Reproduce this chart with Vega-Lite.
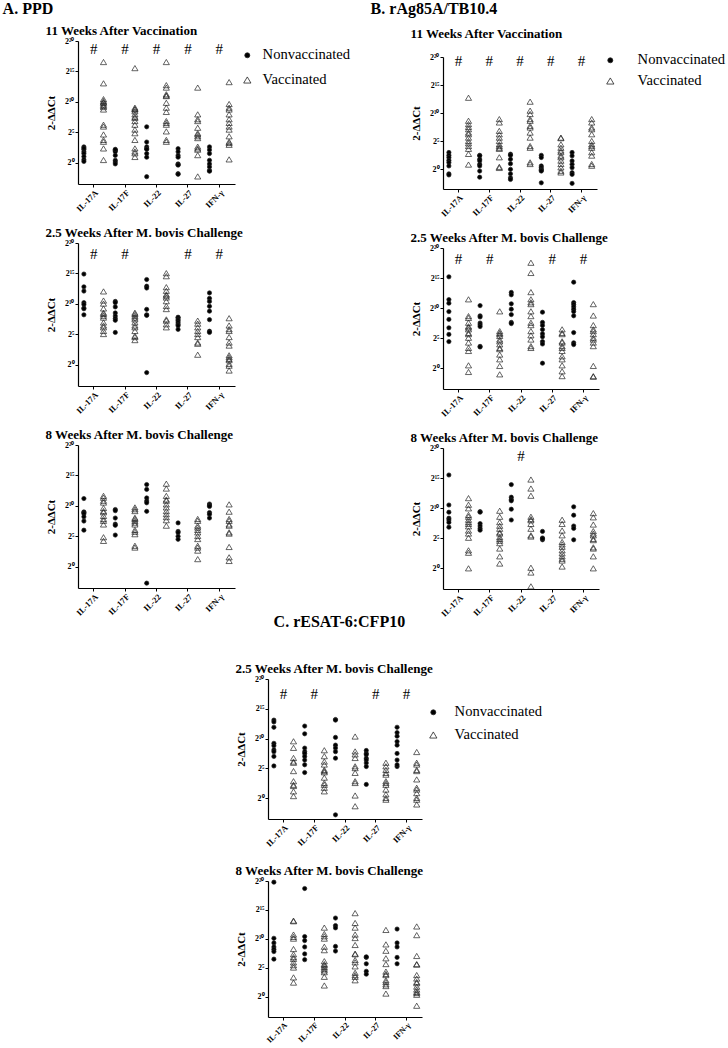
{
"$schema":"https://vega.github.io/schema/vega-lite/v6.json",
"padding":{"left":2,"top":0,"right":2,"bottom":0},
"background":"white",
"config":{
 "view":{"stroke":null},
 "font":"Liberation Serif",
 "title":{"font":"Liberation Serif","fontSize":13,"fontWeight":"bold","anchor":"start","frame":"bounds","color":"#000","offset":-1},
 "axis":{"labelFont":"Liberation Serif","titleFont":"Liberation Serif","labelColor":"#000","titleColor":"#000","domainColor":"#000","tickColor":"#000","grid":false,"domainWidth":1.2,"tickWidth":1},
 "legend":{"labelFont":"Liberation Serif","labelFontSize":14.6,"labelColor":"#000","symbolStrokeColor":"#222","symbolStrokeWidth":0.8,"symbolSize":25}
},
"datasets":{
"sig":[{"panel":"A11","cyt":"IL-17A"},{"panel":"A11","cyt":"IL-17F"},{"panel":"A11","cyt":"IL-22"},{"panel":"A11","cyt":"IL-27"},{"panel":"A11","cyt":"IFN-γ"},
{"panel":"A25","cyt":"IL-17A"},{"panel":"A25","cyt":"IL-17F"},{"panel":"A25","cyt":"IL-27"},{"panel":"A25","cyt":"IFN-γ"},
{"panel":"B11","cyt":"IL-17A"},{"panel":"B11","cyt":"IL-17F"},{"panel":"B11","cyt":"IL-22"},{"panel":"B11","cyt":"IL-27"},{"panel":"B11","cyt":"IFN-γ"},
{"panel":"B25","cyt":"IL-17A"},{"panel":"B25","cyt":"IL-17F"},{"panel":"B25","cyt":"IL-27"},{"panel":"B25","cyt":"IFN-γ"},
{"panel":"B8","cyt":"IL-22"},
{"panel":"C25","cyt":"IL-17A"},{"panel":"C25","cyt":"IL-17F"},{"panel":"C25","cyt":"IL-27"},{"panel":"C25","cyt":"IFN-γ"}],
"A11":[
{"cyt":"IL-17A","grp":"N","val":2.6},{"cyt":"IL-17A","grp":"N","val":2.2},{"cyt":"IL-17A","grp":"N","val":1.8},{"cyt":"IL-17A","grp":"N","val":1.5},{"cyt":"IL-17A","grp":"N","val":1.0},{"cyt":"IL-17A","grp":"N","val":0.5},{"cyt":"IL-17A","grp":"N","val":0.2},{"cyt":"IL-17A","grp":"N","val":2.4},
{"cyt":"IL-17A","grp":"V","val":16.5},{"cyt":"IL-17A","grp":"V","val":13},{"cyt":"IL-17A","grp":"V","val":10.4},{"cyt":"IL-17A","grp":"V","val":10.1},{"cyt":"IL-17A","grp":"V","val":9.8},{"cyt":"IL-17A","grp":"V","val":9.5},{"cyt":"IL-17A","grp":"V","val":9.3},{"cyt":"IL-17A","grp":"V","val":9.9},{"cyt":"IL-17A","grp":"V","val":9.1},{"cyt":"IL-17A","grp":"V","val":8.7},{"cyt":"IL-17A","grp":"V","val":6.2},{"cyt":"IL-17A","grp":"V","val":5.9},{"cyt":"IL-17A","grp":"V","val":4.6},{"cyt":"IL-17A","grp":"V","val":3.7},{"cyt":"IL-17A","grp":"V","val":3.4},{"cyt":"IL-17A","grp":"V","val":2.3},{"cyt":"IL-17A","grp":"V","val":0.4},
{"cyt":"IL-17F","grp":"N","val":2.1},{"cyt":"IL-17F","grp":"N","val":2.0},{"cyt":"IL-17F","grp":"N","val":1.8},{"cyt":"IL-17F","grp":"N","val":1.2},{"cyt":"IL-17F","grp":"N","val":0.4},{"cyt":"IL-17F","grp":"N","val":0.1},{"cyt":"IL-17F","grp":"N","val":-0.2},{"cyt":"IL-17F","grp":"N","val":2.2},
{"cyt":"IL-17F","grp":"V","val":15.5},{"cyt":"IL-17F","grp":"V","val":9},{"cyt":"IL-17F","grp":"V","val":8.7},{"cyt":"IL-17F","grp":"V","val":8.4},{"cyt":"IL-17F","grp":"V","val":7.9},{"cyt":"IL-17F","grp":"V","val":7.3},{"cyt":"IL-17F","grp":"V","val":6.8},{"cyt":"IL-17F","grp":"V","val":6.2},{"cyt":"IL-17F","grp":"V","val":5.4},{"cyt":"IL-17F","grp":"V","val":4.8},{"cyt":"IL-17F","grp":"V","val":3.7},{"cyt":"IL-17F","grp":"V","val":2.3},{"cyt":"IL-17F","grp":"V","val":1.8},{"cyt":"IL-17F","grp":"V","val":1.5},{"cyt":"IL-17F","grp":"V","val":0.9},{"cyt":"IL-17F","grp":"V","val":8.8},{"cyt":"IL-17F","grp":"V","val":7.5},
{"cyt":"IL-22","grp":"N","val":5.9},{"cyt":"IL-22","grp":"N","val":3.4},{"cyt":"IL-22","grp":"N","val":2.6},{"cyt":"IL-22","grp":"N","val":2.3},{"cyt":"IL-22","grp":"N","val":2.2},{"cyt":"IL-22","grp":"N","val":1.5},{"cyt":"IL-22","grp":"N","val":0.9},{"cyt":"IL-22","grp":"N","val":-2.3},
{"cyt":"IL-22","grp":"V","val":16.5},{"cyt":"IL-22","grp":"V","val":12.7},{"cyt":"IL-22","grp":"V","val":12.3},{"cyt":"IL-22","grp":"V","val":11.2},{"cyt":"IL-22","grp":"V","val":10.9},{"cyt":"IL-22","grp":"V","val":9.8},{"cyt":"IL-22","grp":"V","val":9},{"cyt":"IL-22","grp":"V","val":8.3},{"cyt":"IL-22","grp":"V","val":6.8},{"cyt":"IL-22","grp":"V","val":6.5},{"cyt":"IL-22","grp":"V","val":6.2},{"cyt":"IL-22","grp":"V","val":5.1},{"cyt":"IL-22","grp":"V","val":3.7},{"cyt":"IL-22","grp":"V","val":3.4},{"cyt":"IL-22","grp":"V","val":11.0},
{"cyt":"IL-27","grp":"N","val":2.3},{"cyt":"IL-27","grp":"N","val":1.8},{"cyt":"IL-27","grp":"N","val":1.2},{"cyt":"IL-27","grp":"N","val":0.9},{"cyt":"IL-27","grp":"N","val":-0.2},{"cyt":"IL-27","grp":"N","val":-0.3},{"cyt":"IL-27","grp":"N","val":-0.4},{"cyt":"IL-27","grp":"N","val":-1.8},{"cyt":"IL-27","grp":"N","val":-1.9},
{"cyt":"IL-27","grp":"V","val":12.3},{"cyt":"IL-27","grp":"V","val":7.9},{"cyt":"IL-27","grp":"V","val":7.1},{"cyt":"IL-27","grp":"V","val":6.8},{"cyt":"IL-27","grp":"V","val":5.7},{"cyt":"IL-27","grp":"V","val":4.8},{"cyt":"IL-27","grp":"V","val":4.6},{"cyt":"IL-27","grp":"V","val":4.3},{"cyt":"IL-27","grp":"V","val":4},{"cyt":"IL-27","grp":"V","val":2.6},{"cyt":"IL-27","grp":"V","val":2.3},{"cyt":"IL-27","grp":"V","val":2.1},{"cyt":"IL-27","grp":"V","val":1.2},{"cyt":"IL-27","grp":"V","val":-2.3},
{"cyt":"IFN-γ","grp":"N","val":2.6},{"cyt":"IFN-γ","grp":"N","val":2.1},{"cyt":"IFN-γ","grp":"N","val":1.5},{"cyt":"IFN-γ","grp":"N","val":0.4},{"cyt":"IFN-γ","grp":"N","val":-0.2},{"cyt":"IFN-γ","grp":"N","val":-0.7},{"cyt":"IFN-γ","grp":"N","val":-1.3},{"cyt":"IFN-γ","grp":"N","val":-1.4},
{"cyt":"IFN-γ","grp":"V","val":13.2},{"cyt":"IFN-γ","grp":"V","val":9.6},{"cyt":"IFN-γ","grp":"V","val":9},{"cyt":"IFN-γ","grp":"V","val":8.7},{"cyt":"IFN-γ","grp":"V","val":7.9},{"cyt":"IFN-γ","grp":"V","val":7.1},{"cyt":"IFN-γ","grp":"V","val":6.5},{"cyt":"IFN-γ","grp":"V","val":5.9},{"cyt":"IFN-γ","grp":"V","val":5.4},{"cyt":"IFN-γ","grp":"V","val":4.3},{"cyt":"IFN-γ","grp":"V","val":3.4},{"cyt":"IFN-γ","grp":"V","val":3.2},{"cyt":"IFN-γ","grp":"V","val":2.9},{"cyt":"IFN-γ","grp":"V","val":0.5}],
"A25":[
{"cyt":"IL-17A","grp":"N","val":14.9},{"cyt":"IL-17A","grp":"N","val":12.8},{"cyt":"IL-17A","grp":"N","val":12.1},{"cyt":"IL-17A","grp":"N","val":10.2},{"cyt":"IL-17A","grp":"N","val":9.9},{"cyt":"IL-17A","grp":"N","val":9.3},{"cyt":"IL-17A","grp":"N","val":9.2},{"cyt":"IL-17A","grp":"N","val":8.2},
{"cyt":"IL-17A","grp":"V","val":12},{"cyt":"IL-17A","grp":"V","val":10.5},{"cyt":"IL-17A","grp":"V","val":10},{"cyt":"IL-17A","grp":"V","val":9.2},{"cyt":"IL-17A","grp":"V","val":8.5},{"cyt":"IL-17A","grp":"V","val":8.3},{"cyt":"IL-17A","grp":"V","val":8},{"cyt":"IL-17A","grp":"V","val":7.7},{"cyt":"IL-17A","grp":"V","val":6.9},{"cyt":"IL-17A","grp":"V","val":6.4},{"cyt":"IL-17A","grp":"V","val":6.1},{"cyt":"IL-17A","grp":"V","val":5.5},{"cyt":"IL-17A","grp":"V","val":5},
{"cyt":"IL-17F","grp":"N","val":10.4},{"cyt":"IL-17F","grp":"N","val":10.2},{"cyt":"IL-17F","grp":"N","val":9.5},{"cyt":"IL-17F","grp":"N","val":8.5},{"cyt":"IL-17F","grp":"N","val":8},{"cyt":"IL-17F","grp":"N","val":7.6},{"cyt":"IL-17F","grp":"N","val":7.3},{"cyt":"IL-17F","grp":"N","val":5.3},
{"cyt":"IL-17F","grp":"V","val":8.5},{"cyt":"IL-17F","grp":"V","val":8.3},{"cyt":"IL-17F","grp":"V","val":8},{"cyt":"IL-17F","grp":"V","val":7.7},{"cyt":"IL-17F","grp":"V","val":7.4},{"cyt":"IL-17F","grp":"V","val":6.9},{"cyt":"IL-17F","grp":"V","val":6.4},{"cyt":"IL-17F","grp":"V","val":6.1},{"cyt":"IL-17F","grp":"V","val":5.5},{"cyt":"IL-17F","grp":"V","val":4.7},{"cyt":"IL-17F","grp":"V","val":4.5},{"cyt":"IL-17F","grp":"V","val":4},
{"cyt":"IL-22","grp":"N","val":14},{"cyt":"IL-22","grp":"N","val":12.9},{"cyt":"IL-22","grp":"N","val":12.6},{"cyt":"IL-22","grp":"N","val":9.1},{"cyt":"IL-22","grp":"N","val":8.2},{"cyt":"IL-22","grp":"N","val":8.1},{"cyt":"IL-22","grp":"N","val":-1.3},
{"cyt":"IL-22","grp":"V","val":15},{"cyt":"IL-22","grp":"V","val":14.5},{"cyt":"IL-22","grp":"V","val":12.7},{"cyt":"IL-22","grp":"V","val":12.1},{"cyt":"IL-22","grp":"V","val":11.5},{"cyt":"IL-22","grp":"V","val":11.3},{"cyt":"IL-22","grp":"V","val":11},{"cyt":"IL-22","grp":"V","val":10.4},{"cyt":"IL-22","grp":"V","val":9.6},{"cyt":"IL-22","grp":"V","val":9.1},{"cyt":"IL-22","grp":"V","val":7.4},{"cyt":"IL-22","grp":"V","val":7.2},{"cyt":"IL-22","grp":"V","val":6.6},{"cyt":"IL-22","grp":"V","val":6.1},
{"cyt":"IL-27","grp":"N","val":7.8},{"cyt":"IL-27","grp":"N","val":7.7},{"cyt":"IL-27","grp":"N","val":7.4},{"cyt":"IL-27","grp":"N","val":7.2},{"cyt":"IL-27","grp":"N","val":6.9},{"cyt":"IL-27","grp":"N","val":6.6},{"cyt":"IL-27","grp":"N","val":6.4},{"cyt":"IL-27","grp":"N","val":5.8},
{"cyt":"IL-27","grp":"V","val":7.2},{"cyt":"IL-27","grp":"V","val":6.7},{"cyt":"IL-27","grp":"V","val":6.1},{"cyt":"IL-27","grp":"V","val":5.5},{"cyt":"IL-27","grp":"V","val":5},{"cyt":"IL-27","grp":"V","val":4.5},{"cyt":"IL-27","grp":"V","val":3.6},{"cyt":"IL-27","grp":"V","val":3.4},{"cyt":"IL-27","grp":"V","val":1.6},
{"cyt":"IFN-γ","grp":"N","val":11.8},{"cyt":"IFN-γ","grp":"N","val":10.9},{"cyt":"IFN-γ","grp":"N","val":10.4},{"cyt":"IFN-γ","grp":"N","val":9.6},{"cyt":"IFN-γ","grp":"N","val":8.8},{"cyt":"IFN-γ","grp":"N","val":7.4},{"cyt":"IFN-γ","grp":"N","val":5.5},{"cyt":"IFN-γ","grp":"N","val":5.3},
{"cyt":"IFN-γ","grp":"V","val":7.6},{"cyt":"IFN-γ","grp":"V","val":6.4},{"cyt":"IFN-γ","grp":"V","val":5.8},{"cyt":"IFN-γ","grp":"V","val":5.5},{"cyt":"IFN-γ","grp":"V","val":4.5},{"cyt":"IFN-γ","grp":"V","val":3.6},{"cyt":"IFN-γ","grp":"V","val":3.1},{"cyt":"IFN-γ","grp":"V","val":1.5},{"cyt":"IFN-γ","grp":"V","val":1.2},{"cyt":"IFN-γ","grp":"V","val":0.9},{"cyt":"IFN-γ","grp":"V","val":0.7},{"cyt":"IFN-γ","grp":"V","val":0.1},{"cyt":"IFN-γ","grp":"V","val":-0.2},{"cyt":"IFN-γ","grp":"V","val":-1}],
"A8":[
{"cyt":"IL-17A","grp":"N","val":11.2},{"cyt":"IL-17A","grp":"N","val":9},{"cyt":"IL-17A","grp":"N","val":8.9},{"cyt":"IL-17A","grp":"N","val":8.7},{"cyt":"IL-17A","grp":"N","val":8.2},{"cyt":"IL-17A","grp":"N","val":7.5},{"cyt":"IL-17A","grp":"N","val":6},
{"cyt":"IL-17A","grp":"V","val":11.6},{"cyt":"IL-17A","grp":"V","val":11.3},{"cyt":"IL-17A","grp":"V","val":10.8},{"cyt":"IL-17A","grp":"V","val":10.5},{"cyt":"IL-17A","grp":"V","val":9.6},{"cyt":"IL-17A","grp":"V","val":9.1},{"cyt":"IL-17A","grp":"V","val":8.9},{"cyt":"IL-17A","grp":"V","val":8.3},{"cyt":"IL-17A","grp":"V","val":7.8},{"cyt":"IL-17A","grp":"V","val":7.5},{"cyt":"IL-17A","grp":"V","val":6.9},{"cyt":"IL-17A","grp":"V","val":4.8},{"cyt":"IL-17A","grp":"V","val":4.2},
{"cyt":"IL-17F","grp":"N","val":9.4},{"cyt":"IL-17F","grp":"N","val":9.2},{"cyt":"IL-17F","grp":"N","val":8},{"cyt":"IL-17F","grp":"N","val":7},{"cyt":"IL-17F","grp":"N","val":6.8},{"cyt":"IL-17F","grp":"N","val":5.2},
{"cyt":"IL-17F","grp":"V","val":9.7},{"cyt":"IL-17F","grp":"V","val":9.4},{"cyt":"IL-17F","grp":"V","val":9.1},{"cyt":"IL-17F","grp":"V","val":8},{"cyt":"IL-17F","grp":"V","val":7.8},{"cyt":"IL-17F","grp":"V","val":7.5},{"cyt":"IL-17F","grp":"V","val":7.2},{"cyt":"IL-17F","grp":"V","val":6.9},{"cyt":"IL-17F","grp":"V","val":6},{"cyt":"IL-17F","grp":"V","val":5.7},{"cyt":"IL-17F","grp":"V","val":5.3},{"cyt":"IL-17F","grp":"V","val":3.4},{"cyt":"IL-17F","grp":"V","val":3.1},
{"cyt":"IL-22","grp":"N","val":13.5},{"cyt":"IL-22","grp":"N","val":12.7},{"cyt":"IL-22","grp":"N","val":11.3},{"cyt":"IL-22","grp":"N","val":10.8},{"cyt":"IL-22","grp":"N","val":10.5},{"cyt":"IL-22","grp":"N","val":9.1},{"cyt":"IL-22","grp":"N","val":-2.7},
{"cyt":"IL-22","grp":"V","val":13.6},{"cyt":"IL-22","grp":"V","val":12.8},{"cyt":"IL-22","grp":"V","val":11.6},{"cyt":"IL-22","grp":"V","val":11},{"cyt":"IL-22","grp":"V","val":10.8},{"cyt":"IL-22","grp":"V","val":10.2},{"cyt":"IL-22","grp":"V","val":9.7},{"cyt":"IL-22","grp":"V","val":9.1},{"cyt":"IL-22","grp":"V","val":8.6},{"cyt":"IL-22","grp":"V","val":8.1},{"cyt":"IL-22","grp":"V","val":7.6},{"cyt":"IL-22","grp":"V","val":6.7},
{"cyt":"IL-27","grp":"N","val":7.2},{"cyt":"IL-27","grp":"N","val":5.8},{"cyt":"IL-27","grp":"N","val":5.6},{"cyt":"IL-27","grp":"N","val":5},{"cyt":"IL-27","grp":"N","val":4.5},
{"cyt":"IL-27","grp":"V","val":7.8},{"cyt":"IL-27","grp":"V","val":7.5},{"cyt":"IL-27","grp":"V","val":6.7},{"cyt":"IL-27","grp":"V","val":6.4},{"cyt":"IL-27","grp":"V","val":6},{"cyt":"IL-27","grp":"V","val":5.6},{"cyt":"IL-27","grp":"V","val":5},{"cyt":"IL-27","grp":"V","val":4.5},{"cyt":"IL-27","grp":"V","val":3.4},{"cyt":"IL-27","grp":"V","val":3.1},{"cyt":"IL-27","grp":"V","val":2.6},{"cyt":"IL-27","grp":"V","val":1.2},
{"cyt":"IFN-γ","grp":"N","val":10.3},{"cyt":"IFN-γ","grp":"N","val":10.1},{"cyt":"IFN-γ","grp":"N","val":9.9},{"cyt":"IFN-γ","grp":"N","val":8.9},{"cyt":"IFN-γ","grp":"N","val":8.6},{"cyt":"IFN-γ","grp":"N","val":8},
{"cyt":"IFN-γ","grp":"V","val":10.2},{"cyt":"IFN-γ","grp":"V","val":9},{"cyt":"IFN-γ","grp":"V","val":7.8},{"cyt":"IFN-γ","grp":"V","val":7.5},{"cyt":"IFN-γ","grp":"V","val":6.9},{"cyt":"IFN-γ","grp":"V","val":6.7},{"cyt":"IFN-γ","grp":"V","val":5.6},{"cyt":"IFN-γ","grp":"V","val":5.4},{"cyt":"IFN-γ","grp":"V","val":3.2},{"cyt":"IFN-γ","grp":"V","val":1.5},{"cyt":"IFN-γ","grp":"V","val":0.9}],
"B11":[
{"cyt":"IL-17A","grp":"N","val":3},{"cyt":"IL-17A","grp":"N","val":2.5},{"cyt":"IL-17A","grp":"N","val":2.1},{"cyt":"IL-17A","grp":"N","val":1.6},{"cyt":"IL-17A","grp":"N","val":1.2},{"cyt":"IL-17A","grp":"N","val":0.6},{"cyt":"IL-17A","grp":"N","val":-0.8},{"cyt":"IL-17A","grp":"N","val":-1},
{"cyt":"IL-17A","grp":"V","val":12.7},{"cyt":"IL-17A","grp":"V","val":8.6},{"cyt":"IL-17A","grp":"V","val":8},{"cyt":"IL-17A","grp":"V","val":7.5},{"cyt":"IL-17A","grp":"V","val":7.1},{"cyt":"IL-17A","grp":"V","val":6.5},{"cyt":"IL-17A","grp":"V","val":6.2},{"cyt":"IL-17A","grp":"V","val":5.6},{"cyt":"IL-17A","grp":"V","val":5},{"cyt":"IL-17A","grp":"V","val":4.6},{"cyt":"IL-17A","grp":"V","val":4.1},{"cyt":"IL-17A","grp":"V","val":3.6},{"cyt":"IL-17A","grp":"V","val":2.7},{"cyt":"IL-17A","grp":"V","val":0.8},
{"cyt":"IL-17F","grp":"N","val":2.5},{"cyt":"IL-17F","grp":"N","val":2.4},{"cyt":"IL-17F","grp":"N","val":1.8},{"cyt":"IL-17F","grp":"N","val":1.5},{"cyt":"IL-17F","grp":"N","val":0.9},{"cyt":"IL-17F","grp":"N","val":0.6},{"cyt":"IL-17F","grp":"N","val":-0.3},{"cyt":"IL-17F","grp":"N","val":-1.4},
{"cyt":"IL-17F","grp":"V","val":8.9},{"cyt":"IL-17F","grp":"V","val":8.3},{"cyt":"IL-17F","grp":"V","val":6.8},{"cyt":"IL-17F","grp":"V","val":6.2},{"cyt":"IL-17F","grp":"V","val":5.6},{"cyt":"IL-17F","grp":"V","val":5},{"cyt":"IL-17F","grp":"V","val":4.4},{"cyt":"IL-17F","grp":"V","val":4.1},{"cyt":"IL-17F","grp":"V","val":3.8},{"cyt":"IL-17F","grp":"V","val":3.6},{"cyt":"IL-17F","grp":"V","val":2.1},{"cyt":"IL-17F","grp":"V","val":0.4},{"cyt":"IL-17F","grp":"V","val":0.2},
{"cyt":"IL-22","grp":"N","val":2.7},{"cyt":"IL-22","grp":"N","val":2.5},{"cyt":"IL-22","grp":"N","val":1.8},{"cyt":"IL-22","grp":"N","val":1},{"cyt":"IL-22","grp":"N","val":0},{"cyt":"IL-22","grp":"N","val":-0.8},{"cyt":"IL-22","grp":"N","val":-1.5},{"cyt":"IL-22","grp":"N","val":-1.8},
{"cyt":"IL-22","grp":"V","val":12},{"cyt":"IL-22","grp":"V","val":10.4},{"cyt":"IL-22","grp":"V","val":9.8},{"cyt":"IL-22","grp":"V","val":8.9},{"cyt":"IL-22","grp":"V","val":8.6},{"cyt":"IL-22","grp":"V","val":7.7},{"cyt":"IL-22","grp":"V","val":7.4},{"cyt":"IL-22","grp":"V","val":6.5},{"cyt":"IL-22","grp":"V","val":5.6},{"cyt":"IL-22","grp":"V","val":4.1},{"cyt":"IL-22","grp":"V","val":3.8},{"cyt":"IL-22","grp":"V","val":1.2},{"cyt":"IL-22","grp":"V","val":0.9},
{"cyt":"IL-27","grp":"N","val":2.5},{"cyt":"IL-27","grp":"N","val":2.1},{"cyt":"IL-27","grp":"N","val":0.6},{"cyt":"IL-27","grp":"N","val":0.3},{"cyt":"IL-27","grp":"N","val":0},{"cyt":"IL-27","grp":"N","val":-0.2},{"cyt":"IL-27","grp":"N","val":-0.3},{"cyt":"IL-27","grp":"N","val":-2.4},
{"cyt":"IL-27","grp":"V","val":5.6},{"cyt":"IL-27","grp":"V","val":5.5},{"cyt":"IL-27","grp":"V","val":4.4},{"cyt":"IL-27","grp":"V","val":3.8},{"cyt":"IL-27","grp":"V","val":3.3},{"cyt":"IL-27","grp":"V","val":3},{"cyt":"IL-27","grp":"V","val":2.4},{"cyt":"IL-27","grp":"V","val":2.1},{"cyt":"IL-27","grp":"V","val":1.5},{"cyt":"IL-27","grp":"V","val":0.9},{"cyt":"IL-27","grp":"V","val":0.3},{"cyt":"IL-27","grp":"V","val":-0.3},{"cyt":"IL-27","grp":"V","val":-0.6},
{"cyt":"IFN-γ","grp":"N","val":3},{"cyt":"IFN-γ","grp":"N","val":2.4},{"cyt":"IFN-γ","grp":"N","val":1.5},{"cyt":"IFN-γ","grp":"N","val":0.9},{"cyt":"IFN-γ","grp":"N","val":0.3},{"cyt":"IFN-γ","grp":"N","val":-0.6},{"cyt":"IFN-γ","grp":"N","val":-0.9},{"cyt":"IFN-γ","grp":"N","val":-2.5},
{"cyt":"IFN-γ","grp":"V","val":8.9},{"cyt":"IFN-γ","grp":"V","val":8.3},{"cyt":"IFN-γ","grp":"V","val":7.4},{"cyt":"IFN-γ","grp":"V","val":7.1},{"cyt":"IFN-γ","grp":"V","val":6.2},{"cyt":"IFN-γ","grp":"V","val":5},{"cyt":"IFN-γ","grp":"V","val":4.4},{"cyt":"IFN-γ","grp":"V","val":4.1},{"cyt":"IFN-γ","grp":"V","val":3.8},{"cyt":"IFN-γ","grp":"V","val":3},{"cyt":"IFN-γ","grp":"V","val":2.4},{"cyt":"IFN-γ","grp":"V","val":0.9},{"cyt":"IFN-γ","grp":"V","val":0.6}],
"B25":[
{"cyt":"IL-17A","grp":"N","val":15.2},{"cyt":"IL-17A","grp":"N","val":11.4},{"cyt":"IL-17A","grp":"N","val":10.8},{"cyt":"IL-17A","grp":"N","val":9.4},{"cyt":"IL-17A","grp":"N","val":8.1},{"cyt":"IL-17A","grp":"N","val":6.7},{"cyt":"IL-17A","grp":"N","val":5.6},{"cyt":"IL-17A","grp":"N","val":4.4},
{"cyt":"IL-17A","grp":"V","val":11.4},{"cyt":"IL-17A","grp":"V","val":8.6},{"cyt":"IL-17A","grp":"V","val":8.3},{"cyt":"IL-17A","grp":"V","val":7.5},{"cyt":"IL-17A","grp":"V","val":6.9},{"cyt":"IL-17A","grp":"V","val":6.7},{"cyt":"IL-17A","grp":"V","val":6.4},{"cyt":"IL-17A","grp":"V","val":5.8},{"cyt":"IL-17A","grp":"V","val":5.6},{"cyt":"IL-17A","grp":"V","val":5},{"cyt":"IL-17A","grp":"V","val":4.2},{"cyt":"IL-17A","grp":"V","val":3.3},{"cyt":"IL-17A","grp":"V","val":2.8},{"cyt":"IL-17A","grp":"V","val":0.4},{"cyt":"IL-17A","grp":"V","val":-0.7},
{"cyt":"IL-17F","grp":"N","val":10.4},{"cyt":"IL-17F","grp":"N","val":8.7},{"cyt":"IL-17F","grp":"N","val":8.5},{"cyt":"IL-17F","grp":"N","val":7.5},{"cyt":"IL-17F","grp":"N","val":7.2},{"cyt":"IL-17F","grp":"N","val":6.9},{"cyt":"IL-17F","grp":"N","val":3.6},{"cyt":"IL-17F","grp":"N","val":3.5},
{"cyt":"IL-17F","grp":"V","val":9.4},{"cyt":"IL-17F","grp":"V","val":6.1},{"cyt":"IL-17F","grp":"V","val":5.8},{"cyt":"IL-17F","grp":"V","val":5.6},{"cyt":"IL-17F","grp":"V","val":5.3},{"cyt":"IL-17F","grp":"V","val":4.7},{"cyt":"IL-17F","grp":"V","val":4.4},{"cyt":"IL-17F","grp":"V","val":3.9},{"cyt":"IL-17F","grp":"V","val":3.3},{"cyt":"IL-17F","grp":"V","val":3.1},{"cyt":"IL-17F","grp":"V","val":2.2},{"cyt":"IL-17F","grp":"V","val":1.4},{"cyt":"IL-17F","grp":"V","val":0.3},{"cyt":"IL-17F","grp":"V","val":-1.1},
{"cyt":"IL-22","grp":"N","val":12.6},{"cyt":"IL-22","grp":"N","val":12.2},{"cyt":"IL-22","grp":"N","val":10.7},{"cyt":"IL-22","grp":"N","val":9.8},{"cyt":"IL-22","grp":"N","val":8.9},{"cyt":"IL-22","grp":"N","val":7.6},{"cyt":"IL-22","grp":"N","val":7.4},
{"cyt":"IL-22","grp":"V","val":17.5},{"cyt":"IL-22","grp":"V","val":15.8},{"cyt":"IL-22","grp":"V","val":12.6},{"cyt":"IL-22","grp":"V","val":11.4},{"cyt":"IL-22","grp":"V","val":10.9},{"cyt":"IL-22","grp":"V","val":10.6},{"cyt":"IL-22","grp":"V","val":9.4},{"cyt":"IL-22","grp":"V","val":8.6},{"cyt":"IL-22","grp":"V","val":7.5},{"cyt":"IL-22","grp":"V","val":7.1},{"cyt":"IL-22","grp":"V","val":6.1},{"cyt":"IL-22","grp":"V","val":5.4},{"cyt":"IL-22","grp":"V","val":4.7},{"cyt":"IL-22","grp":"V","val":3.6},{"cyt":"IL-22","grp":"V","val":3.3},
{"cyt":"IL-27","grp":"N","val":9.3},{"cyt":"IL-27","grp":"N","val":7.6},{"cyt":"IL-27","grp":"N","val":7.1},{"cyt":"IL-27","grp":"N","val":6.4},{"cyt":"IL-27","grp":"N","val":5.7},{"cyt":"IL-27","grp":"N","val":5.2},{"cyt":"IL-27","grp":"N","val":4.4},{"cyt":"IL-27","grp":"N","val":4},{"cyt":"IL-27","grp":"N","val":0.8},
{"cyt":"IL-27","grp":"V","val":6.4},{"cyt":"IL-27","grp":"V","val":5.8},{"cyt":"IL-27","grp":"V","val":5.6},{"cyt":"IL-27","grp":"V","val":4.4},{"cyt":"IL-27","grp":"V","val":4.2},{"cyt":"IL-27","grp":"V","val":3.6},{"cyt":"IL-27","grp":"V","val":3.3},{"cyt":"IL-27","grp":"V","val":2.8},{"cyt":"IL-27","grp":"V","val":1.9},{"cyt":"IL-27","grp":"V","val":1.4},{"cyt":"IL-27","grp":"V","val":0.4},{"cyt":"IL-27","grp":"V","val":-0.6},{"cyt":"IL-27","grp":"V","val":-1.4},
{"cyt":"IFN-γ","grp":"N","val":14.3},{"cyt":"IFN-γ","grp":"N","val":10.9},{"cyt":"IFN-γ","grp":"N","val":10.6},{"cyt":"IFN-γ","grp":"N","val":10.2},{"cyt":"IFN-γ","grp":"N","val":9.8},{"cyt":"IFN-γ","grp":"N","val":9.4},{"cyt":"IFN-γ","grp":"N","val":8.7},{"cyt":"IFN-γ","grp":"N","val":5.9},{"cyt":"IFN-γ","grp":"N","val":4.2},{"cyt":"IFN-γ","grp":"N","val":3.9},
{"cyt":"IFN-γ","grp":"V","val":10.6},{"cyt":"IFN-γ","grp":"V","val":8.7},{"cyt":"IFN-γ","grp":"V","val":7.1},{"cyt":"IFN-γ","grp":"V","val":6.4},{"cyt":"IFN-γ","grp":"V","val":6.1},{"cyt":"IFN-γ","grp":"V","val":5.6},{"cyt":"IFN-γ","grp":"V","val":5},{"cyt":"IFN-γ","grp":"V","val":4.7},{"cyt":"IFN-γ","grp":"V","val":4.2},{"cyt":"IFN-γ","grp":"V","val":3.6},{"cyt":"IFN-γ","grp":"V","val":0.3},{"cyt":"IFN-γ","grp":"V","val":-1.4},{"cyt":"IFN-γ","grp":"V","val":-1.5}],
"B8":[
{"cyt":"IL-17A","grp":"N","val":15.5},{"cyt":"IL-17A","grp":"N","val":10.5},{"cyt":"IL-17A","grp":"N","val":9.3},{"cyt":"IL-17A","grp":"N","val":8.3},{"cyt":"IL-17A","grp":"N","val":8},{"cyt":"IL-17A","grp":"N","val":7.6},{"cyt":"IL-17A","grp":"N","val":6.8},
{"cyt":"IL-17A","grp":"V","val":11.6},{"cyt":"IL-17A","grp":"V","val":10.5},{"cyt":"IL-17A","grp":"V","val":9.9},{"cyt":"IL-17A","grp":"V","val":8.8},{"cyt":"IL-17A","grp":"V","val":8.5},{"cyt":"IL-17A","grp":"V","val":8},{"cyt":"IL-17A","grp":"V","val":7.6},{"cyt":"IL-17A","grp":"V","val":7.3},{"cyt":"IL-17A","grp":"V","val":6.9},{"cyt":"IL-17A","grp":"V","val":6.2},{"cyt":"IL-17A","grp":"V","val":5.7},{"cyt":"IL-17A","grp":"V","val":5},{"cyt":"IL-17A","grp":"V","val":2.9},{"cyt":"IL-17A","grp":"V","val":2.5},{"cyt":"IL-17A","grp":"V","val":-0.1},
{"cyt":"IL-17F","grp":"N","val":9.4},{"cyt":"IL-17F","grp":"N","val":9.3},{"cyt":"IL-17F","grp":"N","val":7.4},{"cyt":"IL-17F","grp":"N","val":7},{"cyt":"IL-17F","grp":"N","val":6.6},{"cyt":"IL-17F","grp":"N","val":6.3},
{"cyt":"IL-17F","grp":"V","val":9.5},{"cyt":"IL-17F","grp":"V","val":8.5},{"cyt":"IL-17F","grp":"V","val":7.6},{"cyt":"IL-17F","grp":"V","val":7},{"cyt":"IL-17F","grp":"V","val":6.5},{"cyt":"IL-17F","grp":"V","val":5.9},{"cyt":"IL-17F","grp":"V","val":5.7},{"cyt":"IL-17F","grp":"V","val":5.1},{"cyt":"IL-17F","grp":"V","val":4.8},{"cyt":"IL-17F","grp":"V","val":4.5},{"cyt":"IL-17F","grp":"V","val":4.1},{"cyt":"IL-17F","grp":"V","val":3.2},{"cyt":"IL-17F","grp":"V","val":1.9},{"cyt":"IL-17F","grp":"V","val":0.7},
{"cyt":"IL-22","grp":"N","val":13.9},{"cyt":"IL-22","grp":"N","val":11.8},{"cyt":"IL-22","grp":"N","val":11.4},{"cyt":"IL-22","grp":"N","val":11.2},{"cyt":"IL-22","grp":"N","val":9.8},{"cyt":"IL-22","grp":"N","val":8},
{"cyt":"IL-22","grp":"V","val":14.7},{"cyt":"IL-22","grp":"V","val":13.2},{"cyt":"IL-22","grp":"V","val":12},{"cyt":"IL-22","grp":"V","val":8.5},{"cyt":"IL-22","grp":"V","val":8.1},{"cyt":"IL-22","grp":"V","val":7.9},{"cyt":"IL-22","grp":"V","val":7.3},{"cyt":"IL-22","grp":"V","val":6.5},{"cyt":"IL-22","grp":"V","val":5.4},{"cyt":"IL-22","grp":"V","val":5.2},{"cyt":"IL-22","grp":"V","val":0},{"cyt":"IL-22","grp":"V","val":-0.8},{"cyt":"IL-22","grp":"V","val":-3.1},
{"cyt":"IL-27","grp":"N","val":6.1},{"cyt":"IL-27","grp":"N","val":5},{"cyt":"IL-27","grp":"N","val":4.7},{"cyt":"IL-27","grp":"N","val":4.9},
{"cyt":"IL-27","grp":"V","val":8},{"cyt":"IL-27","grp":"V","val":7.3},{"cyt":"IL-27","grp":"V","val":6.2},{"cyt":"IL-27","grp":"V","val":5.4},{"cyt":"IL-27","grp":"V","val":4.3},{"cyt":"IL-27","grp":"V","val":3.9},{"cyt":"IL-27","grp":"V","val":3.5},{"cyt":"IL-27","grp":"V","val":2.9},{"cyt":"IL-27","grp":"V","val":2.4},{"cyt":"IL-27","grp":"V","val":1.9},{"cyt":"IL-27","grp":"V","val":1.5},{"cyt":"IL-27","grp":"V","val":1.2},{"cyt":"IL-27","grp":"V","val":0.2},
{"cyt":"IFN-γ","grp":"N","val":10.2},{"cyt":"IFN-γ","grp":"N","val":8.8},{"cyt":"IFN-γ","grp":"N","val":7},{"cyt":"IFN-γ","grp":"N","val":6.6},{"cyt":"IFN-γ","grp":"N","val":4.7},
{"cyt":"IFN-γ","grp":"V","val":9.1},{"cyt":"IFN-γ","grp":"V","val":8.4},{"cyt":"IFN-γ","grp":"V","val":7.2},{"cyt":"IFN-γ","grp":"V","val":6.1},{"cyt":"IFN-γ","grp":"V","val":5.7},{"cyt":"IFN-γ","grp":"V","val":5.4},{"cyt":"IFN-γ","grp":"V","val":4.8},{"cyt":"IFN-γ","grp":"V","val":4.6},{"cyt":"IFN-γ","grp":"V","val":3.4},{"cyt":"IFN-γ","grp":"V","val":3.2},{"cyt":"IFN-γ","grp":"V","val":1.9},{"cyt":"IFN-γ","grp":"V","val":-0.1}],
"C25":[
{"cyt":"IL-17A","grp":"N","val":13.1},{"cyt":"IL-17A","grp":"N","val":12.8},{"cyt":"IL-17A","grp":"N","val":11.9},{"cyt":"IL-17A","grp":"N","val":9.2},{"cyt":"IL-17A","grp":"N","val":8.8},{"cyt":"IL-17A","grp":"N","val":8.1},{"cyt":"IL-17A","grp":"N","val":7.8},{"cyt":"IL-17A","grp":"N","val":7},{"cyt":"IL-17A","grp":"N","val":5.4},
{"cyt":"IL-17A","grp":"V","val":9.5},{"cyt":"IL-17A","grp":"V","val":8.4},{"cyt":"IL-17A","grp":"V","val":6.7},{"cyt":"IL-17A","grp":"V","val":6.1},{"cyt":"IL-17A","grp":"V","val":5.9},{"cyt":"IL-17A","grp":"V","val":4.5},{"cyt":"IL-17A","grp":"V","val":2.8},{"cyt":"IL-17A","grp":"V","val":2.2},{"cyt":"IL-17A","grp":"V","val":2},{"cyt":"IL-17A","grp":"V","val":1.1},{"cyt":"IL-17A","grp":"V","val":0.3},
{"cyt":"IL-17F","grp":"N","val":12.1},{"cyt":"IL-17F","grp":"N","val":10.8},{"cyt":"IL-17F","grp":"N","val":8.4},{"cyt":"IL-17F","grp":"N","val":7.8},{"cyt":"IL-17F","grp":"N","val":7.5},{"cyt":"IL-17F","grp":"N","val":7},{"cyt":"IL-17F","grp":"N","val":6.4},{"cyt":"IL-17F","grp":"N","val":5.6},{"cyt":"IL-17F","grp":"N","val":4.3},
{"cyt":"IL-17F","grp":"V","val":8},{"cyt":"IL-17F","grp":"V","val":7},{"cyt":"IL-17F","grp":"V","val":6.1},{"cyt":"IL-17F","grp":"V","val":5.6},{"cyt":"IL-17F","grp":"V","val":4.7},{"cyt":"IL-17F","grp":"V","val":4.5},{"cyt":"IL-17F","grp":"V","val":4.3},{"cyt":"IL-17F","grp":"V","val":3.4},{"cyt":"IL-17F","grp":"V","val":2.5},{"cyt":"IL-17F","grp":"V","val":2.2},{"cyt":"IL-17F","grp":"V","val":1.7},{"cyt":"IL-17F","grp":"V","val":1.1},
{"cyt":"IL-22","grp":"N","val":13.2},{"cyt":"IL-22","grp":"N","val":13.1},{"cyt":"IL-22","grp":"N","val":10.2},{"cyt":"IL-22","grp":"N","val":8.9},{"cyt":"IL-22","grp":"N","val":8.4},{"cyt":"IL-22","grp":"N","val":7.8},{"cyt":"IL-22","grp":"N","val":6.7},{"cyt":"IL-22","grp":"N","val":-2.8},
{"cyt":"IL-22","grp":"V","val":10.3},{"cyt":"IL-22","grp":"V","val":7.8},{"cyt":"IL-22","grp":"V","val":7.3},{"cyt":"IL-22","grp":"V","val":6.7},{"cyt":"IL-22","grp":"V","val":5.3},{"cyt":"IL-22","grp":"V","val":5},{"cyt":"IL-22","grp":"V","val":4.2},{"cyt":"IL-22","grp":"V","val":2.8},{"cyt":"IL-22","grp":"V","val":2.5},{"cyt":"IL-22","grp":"V","val":0.4},{"cyt":"IL-22","grp":"V","val":-1.4},
{"cyt":"IL-27","grp":"N","val":8},{"cyt":"IL-27","grp":"N","val":7.5},{"cyt":"IL-27","grp":"N","val":7.3},{"cyt":"IL-27","grp":"N","val":6.7},{"cyt":"IL-27","grp":"N","val":6.4},{"cyt":"IL-27","grp":"N","val":5.9},{"cyt":"IL-27","grp":"N","val":5.3},{"cyt":"IL-27","grp":"N","val":2.3},
{"cyt":"IL-27","grp":"V","val":5.9},{"cyt":"IL-27","grp":"V","val":5.3},{"cyt":"IL-27","grp":"V","val":4.7},{"cyt":"IL-27","grp":"V","val":4.2},{"cyt":"IL-27","grp":"V","val":3.9},{"cyt":"IL-27","grp":"V","val":2.8},{"cyt":"IL-27","grp":"V","val":2.5},{"cyt":"IL-27","grp":"V","val":2.2},{"cyt":"IL-27","grp":"V","val":1.4},{"cyt":"IL-27","grp":"V","val":0.6},{"cyt":"IL-27","grp":"V","val":0},{"cyt":"IL-27","grp":"V","val":-0.3},
{"cyt":"IFN-γ","grp":"N","val":11.9},{"cyt":"IFN-γ","grp":"N","val":11},{"cyt":"IFN-γ","grp":"N","val":10.4},{"cyt":"IFN-γ","grp":"N","val":9.5},{"cyt":"IFN-γ","grp":"N","val":8.9},{"cyt":"IFN-γ","grp":"N","val":7.5},{"cyt":"IFN-γ","grp":"N","val":6.4},{"cyt":"IFN-γ","grp":"N","val":5.3},{"cyt":"IFN-γ","grp":"N","val":5.6},
{"cyt":"IFN-γ","grp":"V","val":7.7},{"cyt":"IFN-γ","grp":"V","val":5.9},{"cyt":"IFN-γ","grp":"V","val":5.6},{"cyt":"IFN-γ","grp":"V","val":4.7},{"cyt":"IFN-γ","grp":"V","val":4.5},{"cyt":"IFN-γ","grp":"V","val":3.1},{"cyt":"IFN-γ","grp":"V","val":1.7},{"cyt":"IFN-γ","grp":"V","val":1.4},{"cyt":"IFN-γ","grp":"V","val":0.8},{"cyt":"IFN-γ","grp":"V","val":0},{"cyt":"IFN-γ","grp":"V","val":-0.3},{"cyt":"IFN-γ","grp":"V","val":-1.1}],
"C8":[
{"cyt":"IL-17A","grp":"N","val":19.8},{"cyt":"IL-17A","grp":"N","val":10.1},{"cyt":"IL-17A","grp":"N","val":9.3},{"cyt":"IL-17A","grp":"N","val":8.6},{"cyt":"IL-17A","grp":"N","val":8.2},{"cyt":"IL-17A","grp":"N","val":7.8},{"cyt":"IL-17A","grp":"N","val":6.5},
{"cyt":"IL-17A","grp":"V","val":13.1},{"cyt":"IL-17A","grp":"V","val":13},{"cyt":"IL-17A","grp":"V","val":10.7},{"cyt":"IL-17A","grp":"V","val":10.3},{"cyt":"IL-17A","grp":"V","val":10},{"cyt":"IL-17A","grp":"V","val":8.2},{"cyt":"IL-17A","grp":"V","val":7.3},{"cyt":"IL-17A","grp":"V","val":6.8},{"cyt":"IL-17A","grp":"V","val":6.5},{"cyt":"IL-17A","grp":"V","val":5.9},{"cyt":"IL-17A","grp":"V","val":5.4},{"cyt":"IL-17A","grp":"V","val":5},{"cyt":"IL-17A","grp":"V","val":3.3},{"cyt":"IL-17A","grp":"V","val":2.4},
{"cyt":"IL-17F","grp":"N","val":18.7},{"cyt":"IL-17F","grp":"N","val":10.4},{"cyt":"IL-17F","grp":"N","val":9.7},{"cyt":"IL-17F","grp":"N","val":8.6},{"cyt":"IL-17F","grp":"N","val":7.4},{"cyt":"IL-17F","grp":"N","val":6.4},
{"cyt":"IL-17F","grp":"V","val":11.9},{"cyt":"IL-17F","grp":"V","val":10.8},{"cyt":"IL-17F","grp":"V","val":10.4},{"cyt":"IL-17F","grp":"V","val":10},{"cyt":"IL-17F","grp":"V","val":8.6},{"cyt":"IL-17F","grp":"V","val":8},{"cyt":"IL-17F","grp":"V","val":6.1},{"cyt":"IL-17F","grp":"V","val":5.6},{"cyt":"IL-17F","grp":"V","val":5.4},{"cyt":"IL-17F","grp":"V","val":5.1},{"cyt":"IL-17F","grp":"V","val":4.8},{"cyt":"IL-17F","grp":"V","val":4.5},{"cyt":"IL-17F","grp":"V","val":4.2},{"cyt":"IL-17F","grp":"V","val":3.4},{"cyt":"IL-17F","grp":"V","val":1.9},
{"cyt":"IL-22","grp":"N","val":13.6},{"cyt":"IL-22","grp":"N","val":12.3},{"cyt":"IL-22","grp":"N","val":11.9},{"cyt":"IL-22","grp":"N","val":8.7},{"cyt":"IL-22","grp":"N","val":7.9},
{"cyt":"IL-22","grp":"V","val":14.4},{"cyt":"IL-22","grp":"V","val":12.7},{"cyt":"IL-22","grp":"V","val":11.9},{"cyt":"IL-22","grp":"V","val":10.7},{"cyt":"IL-22","grp":"V","val":10.1},{"cyt":"IL-22","grp":"V","val":8.9},{"cyt":"IL-22","grp":"V","val":7.4},{"cyt":"IL-22","grp":"V","val":7.3},{"cyt":"IL-22","grp":"V","val":6.3},{"cyt":"IL-22","grp":"V","val":5.9},{"cyt":"IL-22","grp":"V","val":5.2},{"cyt":"IL-22","grp":"V","val":4.1},{"cyt":"IL-22","grp":"V","val":3.7},{"cyt":"IL-22","grp":"V","val":2.8},{"cyt":"IL-22","grp":"V","val":3.4},
{"cyt":"IL-27","grp":"N","val":6.8},{"cyt":"IL-27","grp":"N","val":6.9},{"cyt":"IL-27","grp":"N","val":5.7},{"cyt":"IL-27","grp":"N","val":4.4},{"cyt":"IL-27","grp":"N","val":3.9},
{"cyt":"IL-27","grp":"V","val":11.5},{"cyt":"IL-27","grp":"V","val":9},{"cyt":"IL-27","grp":"V","val":7.9},{"cyt":"IL-27","grp":"V","val":6.6},{"cyt":"IL-27","grp":"V","val":5.6},{"cyt":"IL-27","grp":"V","val":4.3},{"cyt":"IL-27","grp":"V","val":3.9},{"cyt":"IL-27","grp":"V","val":3.7},{"cyt":"IL-27","grp":"V","val":2.8},{"cyt":"IL-27","grp":"V","val":2.5},{"cyt":"IL-27","grp":"V","val":2.1},{"cyt":"IL-27","grp":"V","val":1.8},{"cyt":"IL-27","grp":"V","val":0.5},
{"cyt":"IFN-γ","grp":"N","val":11.7},{"cyt":"IFN-γ","grp":"N","val":9.3},{"cyt":"IFN-γ","grp":"N","val":8.6},{"cyt":"IFN-γ","grp":"N","val":6.8},{"cyt":"IFN-γ","grp":"N","val":5.7},
{"cyt":"IFN-γ","grp":"V","val":12.1},{"cyt":"IFN-γ","grp":"V","val":10.6},{"cyt":"IFN-γ","grp":"V","val":7},{"cyt":"IFN-γ","grp":"V","val":5.6},{"cyt":"IFN-γ","grp":"V","val":5.5},{"cyt":"IFN-γ","grp":"V","val":3.7},{"cyt":"IFN-γ","grp":"V","val":3.1},{"cyt":"IFN-γ","grp":"V","val":2.5},{"cyt":"IFN-γ","grp":"V","val":2.3},{"cyt":"IFN-γ","grp":"V","val":1.7},{"cyt":"IFN-γ","grp":"V","val":1.2},{"cyt":"IFN-γ","grp":"V","val":0.8},{"cyt":"IFN-γ","grp":"V","val":0.6},{"cyt":"IFN-γ","grp":"V","val":0.3},{"cyt":"IFN-γ","grp":"V","val":-1.6}]
},
"spacing":-4,
"align":"none",
"resolve":{"scale":{"shape":"independent","fill":"independent","stroke":"independent"},"legend":{"shape":"independent","fill":"independent","stroke":"independent"}},
"vconcat":[
{"hconcat":[
 {"title":{"text":"A. PPD","fontSize":16,"dx":-43,"offset":2},
  "spacing":0,
  "resolve":{"scale":{"shape":"independent","fill":"independent","stroke":"independent"},"legend":{"shape":"independent","fill":"independent","stroke":"independent"}},
  "vconcat":[
   {"width":1,"height":1,"data":{"values":[{}]},"mark":{"type":"point","opacity":0},"encoding":{}},
   {"spacing":14,
    "resolve":{"scale":{"shape":"independent","fill":"independent","stroke":"independent"},"legend":{"shape":"independent","fill":"independent","stroke":"independent"}},
    "vconcat":[
   {"width":157,"height":143,"title":{"text":"11 Weeks After Vaccination"},
    "layer":[
     {"data":{"name":"A11"},"mark":{"type":"point","filled":true,"strokeWidth":0.7,"opacity":1,"size":18},
      "encoding":{
       "x":{"field":"cyt","type":"nominal","scale":{"domain":["IL-17A","IL-17F","IL-22","IL-27","IFN-γ"],"paddingInner":0,"paddingOuter":0},"axis":{"labelAngle":-45,"labelFontSize":8.5,"labelFontWeight":"bold","tickSize":3,"labelPadding":1},"title":null},
       "xOffset":{"field":"grp","type":"nominal","scale":{"domain":["N","V"],"paddingOuter":0.3,"paddingInner":0}},
       "y":{"field":"val","type":"quantitative","scale":{"domain":[-3.5,20],"nice":false,"zero":false},"axis":{"values":[0,5,10,15,20],"labelExpr":"datum.value==20?'2²⁰':datum.value==15?'2¹⁵':datum.value==10?'2¹⁰':datum.value==5?'2⁵':'2⁰'","labelFontSize":8,"labelFontWeight":"bold","tickSize":3,"labelPadding":1,"titleFontSize":11,"titleFontWeight":"bold","titlePadding":8},"title":"2-ΔΔCt"},
       "shape":{"field":"grp","type":"nominal","scale":{"domain":["N","V"],"range":["circle","M0,-1.35L1.45,1.1L-1.45,1.1Z"]},"legend":{"title":null,"orient":"none","legendX":162,"legendY":7,"labelExpr":"datum.label=='N'?'Nonvaccinated':'Vaccinated'","rowPadding":10,"labelOffset":8}},
       "fill":{"field":"grp","type":"nominal","scale":{"domain":["N","V"],"range":["#000000","transparent"]},"legend":{"title":null,"orient":"none","legendX":162,"legendY":7,"labelExpr":"datum.label=='N'?'Nonvaccinated':'Vaccinated'","rowPadding":10,"labelOffset":8}},
       "stroke":{"field":"grp","type":"nominal","scale":{"domain":["N","V"],"range":["#222222","#222222"]},"legend":{"title":null,"orient":"none","legendX":162,"legendY":7,"labelExpr":"datum.label=='N'?'Nonvaccinated':'Vaccinated'","rowPadding":10,"labelOffset":8}}
      }},
     {"data":{"name":"sig"},"transform":[{"filter":"datum.panel=='A11'"}],"mark":{"type":"text","text":"#","fontSize":15,"font":"Liberation Serif","baseline":"middle"},
      "encoding":{
       "x":{"field":"cyt","type":"nominal","scale":{"domain":["IL-17A","IL-17F","IL-22","IL-27","IFN-γ"],"paddingInner":0,"paddingOuter":0},"axis":{"labelAngle":-45,"labelFontSize":8.5,"labelFontWeight":"bold","tickSize":3,"labelPadding":1},"title":null},
       "y":{"datum":18.7,"type":"quantitative","scale":{"domain":[-3.5,20],"nice":false,"zero":false},"axis":{"values":[0,5,10,15,20],"labelExpr":"datum.value==20?'2²⁰':datum.value==15?'2¹⁵':datum.value==10?'2¹⁰':datum.value==5?'2⁵':'2⁰'","labelFontSize":8,"labelFontWeight":"bold","tickSize":3,"labelPadding":1,"titleFontSize":11,"titleFontWeight":"bold","titlePadding":8},"title":"2-ΔΔCt"}}}
    ]},
   {"width":157,"height":143,"title":{"text":"2.5 Weeks After M. bovis Challenge"},
    "layer":[
     {"data":{"name":"A25"},"mark":{"type":"point","filled":true,"strokeWidth":0.7,"opacity":1,"size":18},
      "encoding":{
       "x":{"field":"cyt","type":"nominal","scale":{"domain":["IL-17A","IL-17F","IL-22","IL-27","IFN-γ"],"paddingInner":0,"paddingOuter":0},"axis":{"labelAngle":-45,"labelFontSize":8.5,"labelFontWeight":"bold","tickSize":3,"labelPadding":1},"title":null},
       "xOffset":{"field":"grp","type":"nominal","scale":{"domain":["N","V"],"paddingOuter":0.3,"paddingInner":0}},
       "y":{"field":"val","type":"quantitative","scale":{"domain":[-3.5,20],"nice":false,"zero":false},"axis":{"values":[0,5,10,15,20],"labelExpr":"datum.value==20?'2²⁰':datum.value==15?'2¹⁵':datum.value==10?'2¹⁰':datum.value==5?'2⁵':'2⁰'","labelFontSize":8,"labelFontWeight":"bold","tickSize":3,"labelPadding":1,"titleFontSize":11,"titleFontWeight":"bold","titlePadding":8},"title":"2-ΔΔCt"},
       "shape":{"field":"grp","type":"nominal","scale":{"domain":["N","V"],"range":["circle","M0,-1.35L1.45,1.1L-1.45,1.1Z"]},"legend":null},
       "fill":{"field":"grp","type":"nominal","scale":{"domain":["N","V"],"range":["#000000","transparent"]},"legend":null},
       "stroke":{"field":"grp","type":"nominal","scale":{"domain":["N","V"],"range":["#222222","#222222"]},"legend":null}
      }},
     {"data":{"name":"sig"},"transform":[{"filter":"datum.panel=='A25'"}],"mark":{"type":"text","text":"#","fontSize":15,"font":"Liberation Serif","baseline":"middle"},
      "encoding":{
       "x":{"field":"cyt","type":"nominal","scale":{"domain":["IL-17A","IL-17F","IL-22","IL-27","IFN-γ"],"paddingInner":0,"paddingOuter":0},"axis":{"labelAngle":-45,"labelFontSize":8.5,"labelFontWeight":"bold","tickSize":3,"labelPadding":1},"title":null},
       "y":{"datum":18.2,"type":"quantitative","scale":{"domain":[-3.5,20],"nice":false,"zero":false},"axis":{"values":[0,5,10,15,20],"labelExpr":"datum.value==20?'2²⁰':datum.value==15?'2¹⁵':datum.value==10?'2¹⁰':datum.value==5?'2⁵':'2⁰'","labelFontSize":8,"labelFontWeight":"bold","tickSize":3,"labelPadding":1,"titleFontSize":11,"titleFontWeight":"bold","titlePadding":8},"title":"2-ΔΔCt"}}}
    ]},
   {"width":157,"height":143,"title":{"text":"8 Weeks After M. bovis Challenge"},
    "layer":[
     {"data":{"name":"A8"},"mark":{"type":"point","filled":true,"strokeWidth":0.7,"opacity":1,"size":18},
      "encoding":{
       "x":{"field":"cyt","type":"nominal","scale":{"domain":["IL-17A","IL-17F","IL-22","IL-27","IFN-γ"],"paddingInner":0,"paddingOuter":0},"axis":{"labelAngle":-45,"labelFontSize":8.5,"labelFontWeight":"bold","tickSize":3,"labelPadding":1},"title":null},
       "xOffset":{"field":"grp","type":"nominal","scale":{"domain":["N","V"],"paddingOuter":0.3,"paddingInner":0}},
       "y":{"field":"val","type":"quantitative","scale":{"domain":[-3.5,20],"nice":false,"zero":false},"axis":{"values":[0,5,10,15,20],"labelExpr":"datum.value==20?'2²⁰':datum.value==15?'2¹⁵':datum.value==10?'2¹⁰':datum.value==5?'2⁵':'2⁰'","labelFontSize":8,"labelFontWeight":"bold","tickSize":3,"labelPadding":1,"titleFontSize":11,"titleFontWeight":"bold","titlePadding":8},"title":"2-ΔΔCt"},
       "shape":{"field":"grp","type":"nominal","scale":{"domain":["N","V"],"range":["circle","M0,-1.35L1.45,1.1L-1.45,1.1Z"]},"legend":null},
       "fill":{"field":"grp","type":"nominal","scale":{"domain":["N","V"],"range":["#000000","transparent"]},"legend":null},
       "stroke":{"field":"grp","type":"nominal","scale":{"domain":["N","V"],"range":["#222222","#222222"]},"legend":null}
      }}
    ]}
    ]}
  ]},
 {"title":{"text":"B. rAg85A/TB10.4","fontSize":16,"dx":-40,"offset":2},
  "spacing":3,
  "resolve":{"scale":{"shape":"independent","fill":"independent","stroke":"independent"},"legend":{"shape":"independent","fill":"independent","stroke":"independent"}},
  "vconcat":[
   {"width":1,"height":1,"data":{"values":[{}]},"mark":{"type":"point","opacity":0},"encoding":{}},
   {"spacing":14,
    "resolve":{"scale":{"shape":"independent","fill":"independent","stroke":"independent"},"legend":{"shape":"independent","fill":"independent","stroke":"independent"}},
    "vconcat":[
   {"width":154,"height":132,"title":{"text":"11 Weeks After Vaccination","offset":12},
    "layer":[
     {"data":{"name":"B11"},"mark":{"type":"point","filled":true,"strokeWidth":0.7,"opacity":1,"size":18},
      "encoding":{
       "x":{"field":"cyt","type":"nominal","scale":{"domain":["IL-17A","IL-17F","IL-22","IL-27","IFN-γ"],"paddingInner":0,"paddingOuter":0},"axis":{"labelAngle":-45,"labelFontSize":8.5,"labelFontWeight":"bold","tickSize":3,"labelPadding":1},"title":null},
       "xOffset":{"field":"grp","type":"nominal","scale":{"domain":["N","V"],"paddingOuter":0.3,"paddingInner":0}},
       "y":{"field":"val","type":"quantitative","scale":{"domain":[-3.5,20],"nice":false,"zero":false},"axis":{"values":[0,5,10,15,20],"labelExpr":"datum.value==20?'2²⁰':datum.value==15?'2¹⁵':datum.value==10?'2¹⁰':datum.value==5?'2⁵':'2⁰'","labelFontSize":8,"labelFontWeight":"bold","tickSize":3,"labelPadding":1,"titleFontSize":11,"titleFontWeight":"bold","titlePadding":8},"title":"2-ΔΔCt"},
       "shape":{"field":"grp","type":"nominal","scale":{"domain":["N","V"],"range":["circle","M0,-1.35L1.45,1.1L-1.45,1.1Z"]},"legend":{"title":null,"orient":"none","legendX":160,"legendY":-4,"labelExpr":"datum.label=='N'?'Nonvaccinated':'Vaccinated'","rowPadding":6,"labelOffset":20}},
       "fill":{"field":"grp","type":"nominal","scale":{"domain":["N","V"],"range":["#000000","transparent"]},"legend":{"title":null,"orient":"none","legendX":160,"legendY":-4,"labelExpr":"datum.label=='N'?'Nonvaccinated':'Vaccinated'","rowPadding":6,"labelOffset":20}},
       "stroke":{"field":"grp","type":"nominal","scale":{"domain":["N","V"],"range":["#222222","#222222"]},"legend":{"title":null,"orient":"none","legendX":160,"legendY":-4,"labelExpr":"datum.label=='N'?'Nonvaccinated':'Vaccinated'","rowPadding":6,"labelOffset":20}}
      }},
     {"data":{"name":"sig"},"transform":[{"filter":"datum.panel=='B11'"}],"mark":{"type":"text","text":"#","fontSize":15,"font":"Liberation Serif","baseline":"middle"},
      "encoding":{
       "x":{"field":"cyt","type":"nominal","scale":{"domain":["IL-17A","IL-17F","IL-22","IL-27","IFN-γ"],"paddingInner":0,"paddingOuter":0},"axis":{"labelAngle":-45,"labelFontSize":8.5,"labelFontWeight":"bold","tickSize":3,"labelPadding":1},"title":null},
       "y":{"datum":19.2,"type":"quantitative","scale":{"domain":[-3.5,20],"nice":false,"zero":false},"axis":{"values":[0,5,10,15,20],"labelExpr":"datum.value==20?'2²⁰':datum.value==15?'2¹⁵':datum.value==10?'2¹⁰':datum.value==5?'2⁵':'2⁰'","labelFontSize":8,"labelFontWeight":"bold","tickSize":3,"labelPadding":1,"titleFontSize":11,"titleFontWeight":"bold","titlePadding":8},"title":"2-ΔΔCt"}}}
    ]},
   {"width":156,"height":141,"title":{"text":"2.5 Weeks After M. bovis Challenge"},
    "layer":[
     {"data":{"name":"B25"},"mark":{"type":"point","filled":true,"strokeWidth":0.7,"opacity":1,"size":18},
      "encoding":{
       "x":{"field":"cyt","type":"nominal","scale":{"domain":["IL-17A","IL-17F","IL-22","IL-27","IFN-γ"],"paddingInner":0,"paddingOuter":0},"axis":{"labelAngle":-45,"labelFontSize":8.5,"labelFontWeight":"bold","tickSize":3,"labelPadding":1},"title":null},
       "xOffset":{"field":"grp","type":"nominal","scale":{"domain":["N","V"],"paddingOuter":0.3,"paddingInner":0}},
       "y":{"field":"val","type":"quantitative","scale":{"domain":[-3.5,20],"nice":false,"zero":false},"axis":{"values":[0,5,10,15,20],"labelExpr":"datum.value==20?'2²⁰':datum.value==15?'2¹⁵':datum.value==10?'2¹⁰':datum.value==5?'2⁵':'2⁰'","labelFontSize":8,"labelFontWeight":"bold","tickSize":3,"labelPadding":1,"titleFontSize":11,"titleFontWeight":"bold","titlePadding":8},"title":"2-ΔΔCt"},
       "shape":{"field":"grp","type":"nominal","scale":{"domain":["N","V"],"range":["circle","M0,-1.35L1.45,1.1L-1.45,1.1Z"]},"legend":null},
       "fill":{"field":"grp","type":"nominal","scale":{"domain":["N","V"],"range":["#000000","transparent"]},"legend":null},
       "stroke":{"field":"grp","type":"nominal","scale":{"domain":["N","V"],"range":["#222222","#222222"]},"legend":null}
      }},
     {"data":{"name":"sig"},"transform":[{"filter":"datum.panel=='B25'"}],"mark":{"type":"text","text":"#","fontSize":15,"font":"Liberation Serif","baseline":"middle"},
      "encoding":{
       "x":{"field":"cyt","type":"nominal","scale":{"domain":["IL-17A","IL-17F","IL-22","IL-27","IFN-γ"],"paddingInner":0,"paddingOuter":0},"axis":{"labelAngle":-45,"labelFontSize":8.5,"labelFontWeight":"bold","tickSize":3,"labelPadding":1},"title":null},
       "y":{"datum":18.2,"type":"quantitative","scale":{"domain":[-3.5,20],"nice":false,"zero":false},"axis":{"values":[0,5,10,15,20],"labelExpr":"datum.value==20?'2²⁰':datum.value==15?'2¹⁵':datum.value==10?'2¹⁰':datum.value==5?'2⁵':'2⁰'","labelFontSize":8,"labelFontWeight":"bold","tickSize":3,"labelPadding":1,"titleFontSize":11,"titleFontWeight":"bold","titlePadding":8},"title":"2-ΔΔCt"}}}
    ]},
   {"width":156,"height":141,"title":{"text":"8 Weeks After M. bovis Challenge"},
    "layer":[
     {"data":{"name":"B8"},"mark":{"type":"point","filled":true,"strokeWidth":0.7,"opacity":1,"size":18},
      "encoding":{
       "x":{"field":"cyt","type":"nominal","scale":{"domain":["IL-17A","IL-17F","IL-22","IL-27","IFN-γ"],"paddingInner":0,"paddingOuter":0},"axis":{"labelAngle":-45,"labelFontSize":8.5,"labelFontWeight":"bold","tickSize":3,"labelPadding":1},"title":null},
       "xOffset":{"field":"grp","type":"nominal","scale":{"domain":["N","V"],"paddingOuter":0.3,"paddingInner":0}},
       "y":{"field":"val","type":"quantitative","scale":{"domain":[-3.5,20],"nice":false,"zero":false},"axis":{"values":[0,5,10,15,20],"labelExpr":"datum.value==20?'2²⁰':datum.value==15?'2¹⁵':datum.value==10?'2¹⁰':datum.value==5?'2⁵':'2⁰'","labelFontSize":8,"labelFontWeight":"bold","tickSize":3,"labelPadding":1,"titleFontSize":11,"titleFontWeight":"bold","titlePadding":8},"title":"2-ΔΔCt"},
       "shape":{"field":"grp","type":"nominal","scale":{"domain":["N","V"],"range":["circle","M0,-1.35L1.45,1.1L-1.45,1.1Z"]},"legend":null},
       "fill":{"field":"grp","type":"nominal","scale":{"domain":["N","V"],"range":["#000000","transparent"]},"legend":null},
       "stroke":{"field":"grp","type":"nominal","scale":{"domain":["N","V"],"range":["#222222","#222222"]},"legend":null}
      }},
     {"data":{"name":"sig"},"transform":[{"filter":"datum.panel=='B8'"}],"mark":{"type":"text","text":"#","fontSize":15,"font":"Liberation Serif","baseline":"middle"},
      "encoding":{
       "x":{"field":"cyt","type":"nominal","scale":{"domain":["IL-17A","IL-17F","IL-22","IL-27","IFN-γ"],"paddingInner":0,"paddingOuter":0},"axis":{"labelAngle":-45,"labelFontSize":8.5,"labelFontWeight":"bold","tickSize":3,"labelPadding":1},"title":null},
       "y":{"datum":18.7,"type":"quantitative","scale":{"domain":[-3.5,20],"nice":false,"zero":false},"axis":{"values":[0,5,10,15,20],"labelExpr":"datum.value==20?'2²⁰':datum.value==15?'2¹⁵':datum.value==10?'2¹⁰':datum.value==5?'2⁵':'2⁰'","labelFontSize":8,"labelFontWeight":"bold","tickSize":3,"labelPadding":1,"titleFontSize":11,"titleFontWeight":"bold","titlePadding":8},"title":"2-ΔΔCt"}}}
    ]}
    ]}
  ]}
 ],
 "spacing":19,
 "align":"none",
 "resolve":{"scale":{"shape":"independent","fill":"independent","stroke":"independent"},"legend":{"shape":"independent","fill":"independent","stroke":"independent"}}
},
{"hconcat":[
 {"width":157,"height":1,"data":{"values":[{}]},"mark":{"type":"point","opacity":0},"encoding":{}},
 {"title":{"text":"C. rESAT-6:CFP10","fontSize":16,"dx":38,"offset":33},
  "spacing":17,
  "resolve":{"scale":{"shape":"independent","fill":"independent","stroke":"independent"},"legend":{"shape":"independent","fill":"independent","stroke":"independent"}},
  "vconcat":[
   {"width":154,"height":140,"title":{"text":"2.5 Weeks After M. bovis Challenge"},
    "layer":[
     {"data":{"name":"C25"},"mark":{"type":"point","filled":true,"strokeWidth":0.7,"opacity":1,"size":18},
      "encoding":{
       "x":{"field":"cyt","type":"nominal","scale":{"domain":["IL-17A","IL-17F","IL-22","IL-27","IFN-γ"],"paddingInner":0,"paddingOuter":0},"axis":{"labelAngle":-45,"labelFontSize":8.5,"labelFontWeight":"bold","tickSize":3,"labelPadding":1},"title":null},
       "xOffset":{"field":"grp","type":"nominal","scale":{"domain":["N","V"],"paddingOuter":0.3,"paddingInner":0}},
       "y":{"field":"val","type":"quantitative","scale":{"domain":[-3.5,20],"nice":false,"zero":false},"axis":{"values":[0,5,10,15,20],"labelExpr":"datum.value==20?'2²⁰':datum.value==15?'2¹⁵':datum.value==10?'2¹⁰':datum.value==5?'2⁵':'2⁰'","labelFontSize":8,"labelFontWeight":"bold","tickSize":3,"labelPadding":1,"titleFontSize":11,"titleFontWeight":"bold","titlePadding":8},"title":"2-ΔΔCt"},
       "shape":{"field":"grp","type":"nominal","scale":{"domain":["N","V"],"range":["circle","M0,-1.35L1.45,1.1L-1.45,1.1Z"]},"legend":{"title":null,"orient":"none","legendX":158,"legendY":26,"labelExpr":"datum.label=='N'?'Nonvaccinated':'Vaccinated'","rowPadding":8,"labelOffset":14}},
       "fill":{"field":"grp","type":"nominal","scale":{"domain":["N","V"],"range":["#000000","transparent"]},"legend":{"title":null,"orient":"none","legendX":158,"legendY":26,"labelExpr":"datum.label=='N'?'Nonvaccinated':'Vaccinated'","rowPadding":8,"labelOffset":14}},
       "stroke":{"field":"grp","type":"nominal","scale":{"domain":["N","V"],"range":["#222222","#222222"]},"legend":{"title":null,"orient":"none","legendX":158,"legendY":26,"labelExpr":"datum.label=='N'?'Nonvaccinated':'Vaccinated'","rowPadding":8,"labelOffset":14}}
      }},
     {"data":{"name":"sig"},"transform":[{"filter":"datum.panel=='C25'"}],"mark":{"type":"text","text":"#","fontSize":15,"font":"Liberation Serif","baseline":"middle"},
      "encoding":{
       "x":{"field":"cyt","type":"nominal","scale":{"domain":["IL-17A","IL-17F","IL-22","IL-27","IFN-γ"],"paddingInner":0,"paddingOuter":0},"axis":{"labelAngle":-45,"labelFontSize":8.5,"labelFontWeight":"bold","tickSize":3,"labelPadding":1},"title":null},
       "y":{"datum":17.5,"type":"quantitative","scale":{"domain":[-3.5,20],"nice":false,"zero":false},"axis":{"values":[0,5,10,15,20],"labelExpr":"datum.value==20?'2²⁰':datum.value==15?'2¹⁵':datum.value==10?'2¹⁰':datum.value==5?'2⁵':'2⁰'","labelFontSize":8,"labelFontWeight":"bold","tickSize":3,"labelPadding":1,"titleFontSize":11,"titleFontWeight":"bold","titlePadding":8},"title":"2-ΔΔCt"}}}
    ]},
   {"width":154,"height":136,"title":{"text":"8 Weeks After M. bovis Challenge"},
    "layer":[
     {"data":{"name":"C8"},"mark":{"type":"point","filled":true,"strokeWidth":0.7,"opacity":1,"size":18},
      "encoding":{
       "x":{"field":"cyt","type":"nominal","scale":{"domain":["IL-17A","IL-17F","IL-22","IL-27","IFN-γ"],"paddingInner":0,"paddingOuter":0},"axis":{"labelAngle":-45,"labelFontSize":8,"labelFontWeight":"bold","tickSize":3,"labelPadding":1},"title":null},
       "xOffset":{"field":"grp","type":"nominal","scale":{"domain":["N","V"],"paddingOuter":0.3,"paddingInner":0}},
       "y":{"field":"val","type":"quantitative","scale":{"domain":[-3.5,20],"nice":false,"zero":false},"axis":{"values":[0,5,10,15,20],"labelExpr":"datum.value==20?'2²⁰':datum.value==15?'2¹⁵':datum.value==10?'2¹⁰':datum.value==5?'2⁵':'2⁰'","labelFontSize":8,"labelFontWeight":"bold","tickSize":3,"labelPadding":1,"titleFontSize":11,"titleFontWeight":"bold","titlePadding":8},"title":"2-ΔΔCt"},
       "shape":{"field":"grp","type":"nominal","scale":{"domain":["N","V"],"range":["circle","M0,-1.35L1.45,1.1L-1.45,1.1Z"]},"legend":null},
       "fill":{"field":"grp","type":"nominal","scale":{"domain":["N","V"],"range":["#000000","transparent"]},"legend":null},
       "stroke":{"field":"grp","type":"nominal","scale":{"domain":["N","V"],"range":["#222222","#222222"]},"legend":null}
      }}
    ]}
  ]}
 ],
 "spacing":0,
 "align":"none",
 "resolve":{"scale":{"shape":"independent","fill":"independent","stroke":"independent"},"legend":{"shape":"independent","fill":"independent","stroke":"independent"}}
}
]
}
